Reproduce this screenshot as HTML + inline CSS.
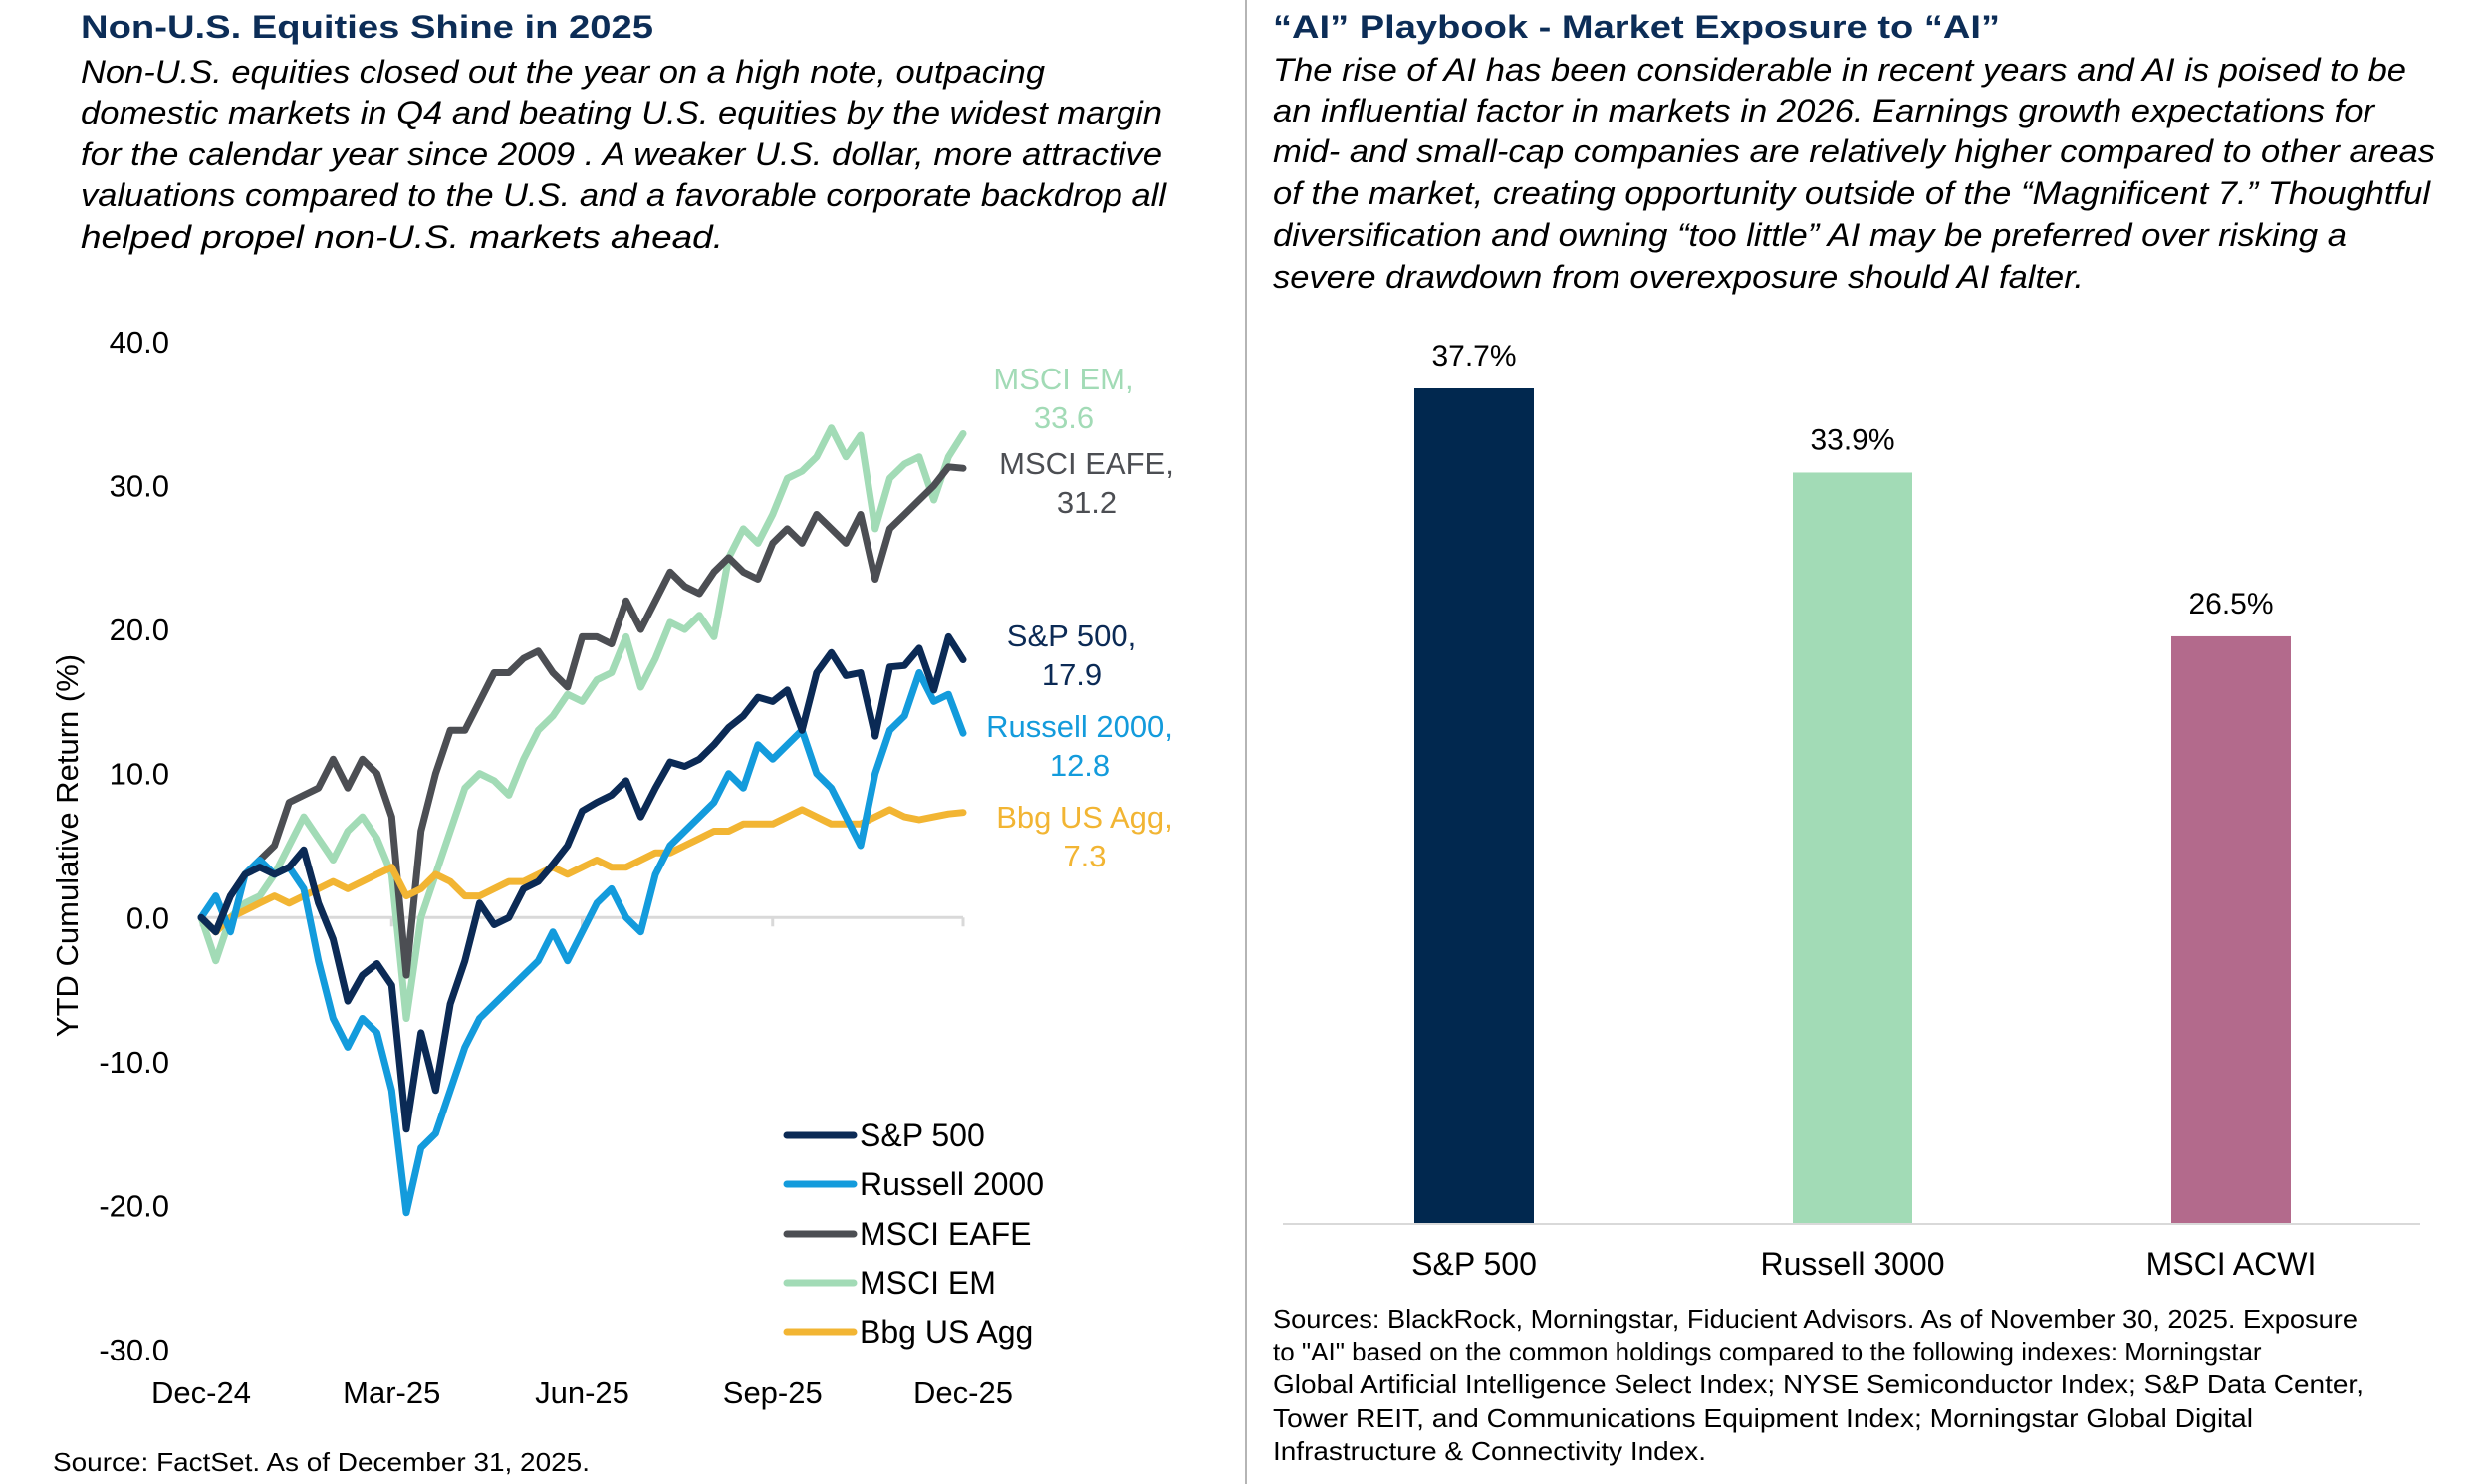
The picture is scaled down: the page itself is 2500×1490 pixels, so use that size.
<!DOCTYPE html>
<html><head><meta charset="utf-8"><style>
html,body{margin:0;padding:0;background:#fff}
svg{display:block;font-family:"Liberation Sans",Arial,sans-serif}
</style></head><body>
<svg id="root" width="2500" height="1490" viewBox="0 0 2500 1490">
<line x1="1251" y1="0" x2="1251" y2="1490" stroke="#b5b5b5" stroke-width="2"/>
<g>
<text x="81" y="38" font-size="32" font-weight="bold" fill="#0c2d57" textLength="575" lengthAdjust="spacingAndGlyphs">Non-U.S. Equities Shine in 2025</text>
<g font-size="32" font-style="italic" fill="#000">
<text x="81" y="83" textLength="968" lengthAdjust="spacingAndGlyphs">Non-U.S. equities closed out the year on a high note, outpacing</text>
<text x="81" y="124" textLength="1086" lengthAdjust="spacingAndGlyphs">domestic markets in Q4 and beating U.S. equities by the widest margin</text>
<text x="81" y="166" textLength="1086" lengthAdjust="spacingAndGlyphs">for the calendar year since 2009 . A weaker U.S. dollar, more attractive</text>
<text x="81" y="207" textLength="1090" lengthAdjust="spacingAndGlyphs">valuations compared to the U.S. and a favorable corporate backdrop all</text>
<text x="81" y="249" textLength="645" lengthAdjust="spacingAndGlyphs">helped propel non-U.S. markets ahead.</text>
</g></g>
<g id="linechart"></g>
<text x="53" y="1477" font-size="26" fill="#000" textLength="539" lengthAdjust="spacingAndGlyphs">Source: FactSet. As of December 31, 2025.</text>
<g>
<text x="1278" y="38" font-size="32" font-weight="bold" fill="#0c2d57" textLength="730" lengthAdjust="spacingAndGlyphs">“AI” Playbook - Market Exposure to “AI”</text>
<g font-size="32" font-style="italic" fill="#000">
<text x="1278" y="81" textLength="1138" lengthAdjust="spacingAndGlyphs">The rise of AI has been considerable in recent years and AI is poised to be</text>
<text x="1278" y="122" textLength="1106" lengthAdjust="spacingAndGlyphs">an influential factor in markets in 2026. Earnings growth expectations for</text>
<text x="1278" y="163" textLength="1167" lengthAdjust="spacingAndGlyphs">mid- and small-cap companies are relatively higher compared to other areas</text>
<text x="1278" y="205" textLength="1162" lengthAdjust="spacingAndGlyphs">of the market, creating opportunity outside of the “Magnificent 7.” Thoughtful</text>
<text x="1278" y="247" textLength="1078" lengthAdjust="spacingAndGlyphs">diversification and owning “too little” AI may be preferred over risking a</text>
<text x="1278" y="289" textLength="814" lengthAdjust="spacingAndGlyphs">severe drawdown from overexposure should AI falter.</text>
</g></g>
<g id="barchart"></g>
<g font-size="26" fill="#000">
<text x="1278" y="1333" textLength="1089" lengthAdjust="spacingAndGlyphs">Sources: BlackRock, Morningstar, Fiducient Advisors. As of November 30, 2025. Exposure</text>
<text x="1278" y="1366">to "AI" based on the common holdings compared to the following indexes: Morningstar</text>
<text x="1278" y="1399" textLength="1095" lengthAdjust="spacingAndGlyphs">Global Artificial Intelligence Select Index; NYSE Semiconductor Index; S&amp;P Data Center,</text>
<text x="1278" y="1433" textLength="984" lengthAdjust="spacingAndGlyphs">Tower REIT, and Communications Equipment Index; Morningstar Global Digital</text>
<text x="1278" y="1466" textLength="435" lengthAdjust="spacingAndGlyphs">Infrastructure &amp; Connectivity Index.</text>
</g>
</svg>
<script>
const yTicks = [40, 30, 20, 10, 0, -10, -20, -30];
const xTickLabels = ["Dec-24", "Mar-25", "Jun-25", "Sep-25", "Dec-25"];
const xTickWeeks = [0, 13, 26, 39, 52];
const sp500 = [0,-1,1.5,3,3.5,3,3.5,4.7,1,-1.5,-5.8,-4,-3.2,-4.7,-14.7,-8,-12,-6,-3,1,-0.5,0,2,2.5,3.7,5,7.4,8,8.5,9.5,7,9,10.8,10.5,11,12,13.2,14,15.3,15,15.8,13,17,18.4,16.8,17,12.6,17.4,17.5,18.7,15.8,19.5,17.9];
const russell2000 = [0,1.5,-1,3,4,3,3.5,2,-3,-7,-9,-7,-8,-12,-20.5,-16,-15,-12,-9,-7,-6,-5,-4,-3,-1,-3,-1,1,2,0,-1,3,5,6,7,8,10,9,12,11,12,13,10,9,7,5,10,13,14,17,15,15.5,12.8];
const msciEafe = [0,-1,1.5,3,4,5,8,8.5,9,11,9,11,10,7,-4,6,10,13,13,15,17,17,18,18.5,17,16,19.5,19.5,19,22,20,22,24,23,22.5,24,25,24,23.5,26,27,26,28,27,26,28,23.5,27,28,29,30,31.3,31.2];
const msciEm = [0,-3,0,1,1.5,3,5,7,5.5,4,6,7,5.5,3,-7,0,3,6,9,10,9.5,8.5,11,13,14,15.5,15,16.5,17,19.5,16,18,20.5,20,21,19.5,25,27,26,28,30.5,31,32,34,32,33.5,27,30.5,31.5,32,29,32,33.6];
const bbgAgg = [0,-1,0,0.5,1,1.5,1,1.5,2,2.5,2,2.5,3,3.5,1.5,2,3,2.5,1.5,1.5,2,2.5,2.5,3,3.5,3,3.5,4,3.5,3.5,4,4.5,4.5,5,5.5,6,6,6.5,6.5,6.5,7,7.5,7,6.5,6.5,6.5,7,7.5,7,6.8,7,7.2,7.3];
const seriesNames = ["S&P 500", "Russell 2000", "MSCI EAFE", "MSCI EM", "Bbg US Agg"];
const endLabels = ["17.9", "12.8", "31.2", "33.6", "7.3"];
const barCategories = ["S&P 500", "Russell 3000", "MSCI ACWI"];
const barValues = [37.7, 33.9, 26.5];
const barLabels = ["37.7%", "33.9%", "26.5%"];

const NS = "http://www.w3.org/2000/svg";
function mk(tag, attrs, parent, txt){const e=document.createElementNS(NS,tag);for(const k in attrs)e.setAttribute(k,attrs[k]);if(txt!==undefined)e.textContent=txt;parent.appendChild(e);return e;}

const lc = document.getElementById('linechart');
const X0=202, X1=967, Y40=343, Ym30=1355;
const xS = w => X0 + (X1-X0)*w/52;
const yS = v => Y40 + (40-v)*(Ym30-Y40)/70;
const zl = mk('line',{x1:X0,y1:yS(0),x2:X1,y2:yS(0),stroke:'#d9d9d9','stroke-width':3},lc);


xTickWeeks.forEach((w,i)=>{
  const t = mk('line',{x1:xS(w),y1:yS(0),x2:xS(w),y2:yS(0)+9,stroke:'#d9d9d9','stroke-width':3},lc);
  
  
  const l = mk('text',{x:xS(w),y:1409,'font-size':31,'text-anchor':'middle',fill:'#000'},lc,xTickLabels[i]);
  
  
});
yTicks.forEach(v=>{
  const l = mk('text',{x:170,y:yS(v)+11,'font-size':31,'text-anchor':'end',fill:'#000'},lc,v.toFixed(1));
  
  
});
const at = mk('text',{x:0,y:0,'font-size':31,'text-anchor':'middle',fill:'#000',transform:'translate(78,849) rotate(-90)'},lc,'YTD Cumulative Return (%)');



const allSeries = [sp500, russell2000, msciEafe, msciEm, bbgAgg];
const colors = ['#0b2a55','#139bdc','#4c4e53','#a2dbb6','#f2b533'];
const drawOrder = [3,2,4,1,0];
const seriesKeys = ['sp500','russell-2000','msci-eafe','msci-em','bbg-us-agg'];
drawOrder.forEach(i=>{
  const d = allSeries[i].map((v,w)=>(w?'L':'M')+xS(w).toFixed(1)+','+yS(v).toFixed(1)).join('');
  const p = mk('path',{d:d,fill:'none',stroke:colors[i],'stroke-width':7,'stroke-linejoin':'round','stroke-linecap':'round'},lc);
  
  
});
const endPos = [[1076,638],[1084,729],[1091,465],[1068,380],[1089,820]];
seriesNames.forEach((n,i)=>{
  const g = mk('text',{'font-size':31,'text-anchor':'middle',fill:colors[i]},lc);
  
  
  mk('tspan',{x:endPos[i][0],y:endPos[i][1]+11},g,n+',');
  mk('tspan',{x:endPos[i][0],y:endPos[i][1]+50},g,endLabels[i]);
});
const legY = [1140,1189,1239,1288,1337];
seriesNames.forEach((n,i)=>{
  const g = mk('g',{},lc);
  
  
  mk('line',{x1:790,y1:legY[i],x2:857,y2:legY[i],stroke:colors[i],'stroke-width':7,'stroke-linecap':'round'},g);
  mk('text',{x:863,y:legY[i]+11,'font-size':32,fill:'#000'},g,n);
});

const bc = document.getElementById('barchart');
const BASE=1228, TOPV=37.7, TOPY=390;
const bY = v => BASE - (BASE-TOPY)*v/TOPV;
const bCenters = [1480,1860,2240];
const bW = 120;
const barColors = ['#01284f','#a2dbb6','#b36a8c'];
const ax = mk('line',{x1:1288,y1:BASE+1,x2:2430,y2:BASE+1,stroke:'#d9d9d9','stroke-width':2},bc);


barValues.forEach((v,i)=>{
  const r = mk('rect',{x:bCenters[i]-bW/2,y:bY(v),width:bW,height:BASE-bY(v),fill:barColors[i]},bc);
  
  
  const t = mk('text',{x:bCenters[i],y:bY(v)-23,'font-size':30,'text-anchor':'middle',fill:'#000'},bc,barLabels[i]);
  
  
  const c = mk('text',{x:bCenters[i],y:1280,'font-size':32,'text-anchor':'middle',fill:'#000'},bc,barCategories[i]);
  
  
});
</script>
</body></html>
